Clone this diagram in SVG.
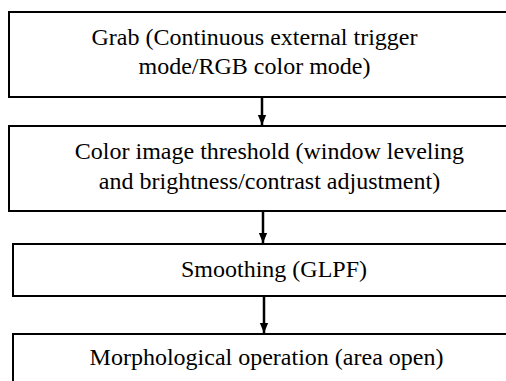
<svg xmlns="http://www.w3.org/2000/svg" width="506" height="381" viewBox="0 0 506 381">
<style>
.box{fill:#fff;stroke:#000;stroke-width:2}
.t{font-family:'Liberation Serif','Times New Roman',serif;font-size:24px;fill:#000;text-anchor:middle}
.c{stroke:#000;stroke-width:2.5;fill:none}
</style>
<defs>
<marker id="ah" viewBox="0 0 12 10" refX="12" refY="5" markerWidth="10" markerHeight="12" markerUnits="userSpaceOnUse" orient="auto">
<path d="M0,0L12,5L0,10z" fill="#000"/>
</marker>
</defs>
<rect width="506" height="381" fill="#fff"/>
<g id="n1"><rect class="box" x="9" y="12" width="510" height="85"/>
<text class="t" x="254.5" y="45">Grab (Continuous external trigger</text>
<text class="t" x="254.5" y="74">mode/RGB color mode)</text></g>
<g id="n2"><rect class="box" x="9" y="126" width="510" height="85"/>
<text class="t" x="269.5" y="159">Color image threshold (window leveling</text>
<text class="t" x="269.5" y="189">and brightness/contrast adjustment)</text></g>
<g id="n3"><rect class="box" x="13" y="244" width="510" height="52"/>
<text class="t" x="274" y="277">Smoothing (GLPF)</text></g>
<g id="n4"><rect class="box" x="13" y="334" width="510" height="60"/>
<text class="t" x="266.5" y="365">Morphological operation (area open)</text></g>
<g id="connectors">
<path d="M262,97V125" class="c" marker-end="url(#ah)"/>
<path d="M263,211V243" class="c" marker-end="url(#ah)"/>
<path d="M264,296V333" class="c" marker-end="url(#ah)"/>
</g>
</svg>
